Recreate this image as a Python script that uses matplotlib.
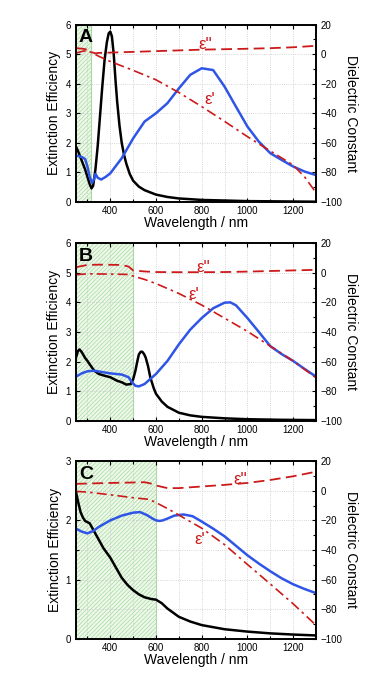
import numpy as np
import matplotlib
matplotlib.use("Agg")
import matplotlib.pyplot as plt
from matplotlib.ticker import MultipleLocator

plt.rcParams['font.family'] = ['Liberation Sans', 'DejaVu Sans']
plt.rcParams['hatch.linewidth'] = 0.5

# ---- Panel A ----
a_black_x = [250, 260, 270, 280, 290, 300, 310, 318, 325, 335, 345, 355, 365, 375, 385, 393, 400,
             407, 415, 423, 430, 440, 450, 460, 470, 485, 500, 525, 550, 600, 650, 700, 800, 900, 1000, 1150, 1300]
a_black_y = [1.87, 1.7, 1.5, 1.3, 1.1, 0.85, 0.6, 0.46, 0.55, 1.1, 1.9, 2.9, 3.9, 4.8, 5.4, 5.7, 5.76,
             5.6, 5.0, 4.1, 3.4, 2.6, 2.0, 1.6, 1.3, 0.95, 0.72, 0.52, 0.4, 0.25, 0.17, 0.12, 0.07, 0.05, 0.03, 0.02, 0.01]
a_blue_x = [250, 265, 280, 290, 300, 310, 320, 328, 335, 345, 360, 380, 400, 450, 500, 550, 600, 650,
            700, 750, 800, 850, 900, 950, 1000, 1050, 1100, 1150, 1200, 1250, 1300]
a_blue_y = [1.56, 1.55, 1.5, 1.45, 1.2, 0.85, 0.65, 0.75, 0.95, 0.82, 0.76, 0.85, 0.97, 1.48, 2.15, 2.72, 3.0, 3.34,
            3.84, 4.3, 4.52, 4.46, 3.9, 3.22, 2.55, 2.04, 1.65, 1.42, 1.2, 1.03, 0.91]
a_eps2_x = [250, 280, 300, 320, 335, 350, 400, 500, 600, 700, 800, 900, 1000, 1100, 1200, 1300]
a_eps2_y = [4.0, 3.6, 3.0, 1.2, 0.5, 0.8, 1.0, 1.5, 2.0, 2.5, 3.0, 3.3, 3.6, 4.0, 4.6, 5.6]
a_eps1_x = [250, 275, 300, 350, 400, 500, 600, 700, 800, 900, 1000, 1100, 1200, 1250, 1300]
a_eps1_y = [0.6, 1.8, 2.4, -1.5, -5.0, -11.0, -17.4, -26.0, -35.5, -45.5, -55.8, -65.5, -75.0, -83.0, -93.7]

# ---- Panel B ----
b_black_x = [250, 258, 265, 275, 290, 300, 315, 330, 350, 375, 400, 430, 450, 470, 490, 500, 510, 518, 525,
             533, 540, 548, 555, 565, 575, 590, 600, 625, 650, 700, 750, 800, 900, 1000, 1150, 1300]
b_black_y = [2.13, 2.35, 2.41, 2.32, 2.12, 2.02, 1.85, 1.69, 1.58, 1.52, 1.47, 1.35, 1.3, 1.22, 1.24, 1.4, 1.69, 2.0, 2.24,
             2.33, 2.33, 2.25, 2.13, 1.85, 1.47, 1.1, 0.91, 0.65, 0.47, 0.27, 0.18, 0.13, 0.08, 0.05, 0.03, 0.02]
b_blue_x = [250, 275, 300, 330, 360, 400, 450, 480, 495, 510, 525, 550, 600, 650, 700, 750, 800, 850, 900,
            925, 950, 1000, 1050, 1100, 1150, 1200, 1250, 1300]
b_blue_y = [1.49, 1.6, 1.67, 1.69, 1.65, 1.6, 1.56, 1.47, 1.3, 1.18, 1.16, 1.24, 1.58, 2.02, 2.58, 3.08, 3.47, 3.8, 3.99,
            4.0, 3.9, 3.47, 3.0, 2.52, 2.25, 2.02, 1.75, 1.49]
b_eps2_x = [250, 300, 350, 400, 450, 480, 500, 550, 600, 700, 800, 900, 1000, 1100, 1200, 1300]
b_eps2_y = [3.8, 5.3, 5.5, 5.4, 5.3, 4.2, 1.6, 0.9, 0.5, 0.4, 0.4, 0.5, 0.8, 1.2, 1.6, 2.0]
b_eps1_x = [250, 300, 400, 470, 500, 550, 600, 700, 800, 900, 1000, 1100, 1200, 1300]
b_eps1_y = [-1.3, -0.7, -0.9, -1.1, -2.2, -4.5, -7.3, -14.0, -21.8, -30.7, -39.6, -49.6, -59.6, -71.0]

# ---- Panel C ----
c_black_x = [250, 260, 270, 280, 290, 300, 310, 320, 330, 350, 370, 400, 425, 450, 475, 500, 525, 550, 580,
             600, 625, 650, 700, 750, 800, 900, 1000, 1100, 1200, 1300]
c_black_y = [2.48, 2.3, 2.14, 2.05, 1.99, 1.97, 1.95, 1.88, 1.81, 1.67, 1.53, 1.37, 1.2, 1.03, 0.91, 0.82, 0.75, 0.7, 0.67,
             0.66, 0.6, 0.51, 0.37, 0.29, 0.23, 0.16, 0.12, 0.09, 0.07, 0.055]
c_blue_x = [250, 275, 300, 325, 350, 400, 450, 500, 530, 560, 585, 600, 615, 630, 650, 680, 720, 760,
            800, 850, 900, 950, 1000, 1050, 1100, 1150, 1200, 1250, 1300]
c_blue_y = [1.86, 1.81, 1.78, 1.82, 1.89, 2.0, 2.08, 2.13, 2.14, 2.09, 2.03, 2.0, 1.99, 2.0, 2.03, 2.08, 2.1, 2.07,
            1.98, 1.86, 1.73, 1.57, 1.41, 1.27, 1.14, 1.02, 0.92, 0.84, 0.77]
c_eps2_x = [250, 300, 400, 500, 550, 575, 600, 650, 700, 800, 900, 1000, 1100, 1200, 1300]
c_eps2_y = [4.7, 4.9, 5.3, 5.6, 5.8, 5.0, 3.6, 1.8, 1.8, 2.9, 4.0, 5.3, 7.3, 9.8, 12.9]
c_eps1_x = [250, 300, 400, 500, 570, 600, 650, 700, 800, 900, 1000, 1100, 1200, 1300]
c_eps1_y = [-0.4, -0.9, -2.7, -4.7, -5.8, -8.0, -12.0, -16.4, -25.3, -36.4, -49.8, -63.0, -76.4, -90.9]

panels = [
    dict(letter='A', span=315, ymax=6, black=(a_black_x, a_black_y), blue=(a_blue_x, a_blue_y),
         eps2=(a_eps2_x, a_eps2_y), eps1=(a_eps1_x, a_eps1_y), lab2=(814, 6.5), lab1=(836, -31)),
    dict(letter='B', span=500, ymax=6, black=(b_black_x, b_black_y), blue=(b_blue_x, b_blue_y),
         eps2=(b_eps2_x, b_eps2_y), eps1=(b_eps1_x, b_eps1_y), lab2=(807, 3.5), lab1=(763, -15)),
    dict(letter='C', span=600, ymax=3, black=(c_black_x, c_black_y), blue=(c_blue_x, c_blue_y),
         eps2=(c_eps2_x, c_eps2_y), eps1=(c_eps1_x, c_eps1_y), lab2=(967, 7.5), lab1=(792, -33)),
]

W, H = 370, 673
fig = plt.figure(figsize=(W / 100, H / 100), dpi=100)
bottoms_px = [202, 420.7, 638.7]
left_px, width_px, height_px = 76, 240, 177.5

red = '#cc1a1a'
blue = '#2f55e6'

for p, bpx in zip(panels, bottoms_px):
    ax = fig.add_axes([left_px / W, 1 - bpx / H, width_px / W, height_px / H])
    ax.set_xlim(250, 1300)
    ax.set_ylim(0, p['ymax'])

    # zona sombreada verde
    ax.axvspan(250, p['span'], facecolor='#eef8ea', edgecolor='#a6dba0', hatch='////////', lw=0, zorder=0)
    ax.axvline(p['span'], color='#a6dba0', lw=0.8, zorder=0)

    ax.plot(*p['black'], color='black', lw=1.8, zorder=3)
    ax.plot(*p['blue'], color=blue, lw=1.8, zorder=3)

    ax.xaxis.set_major_locator(MultipleLocator(200))
    ax.xaxis.set_minor_locator(MultipleLocator(100))
    ax.yaxis.set_major_locator(MultipleLocator(1))
    if p['ymax'] == 3:
        ax.yaxis.set_minor_locator(MultipleLocator(0.5))
        ax.tick_params(axis='y', which='minor', length=0)
    ax.grid(True, which='both', color='#c8c8c8', ls=':', lw=0.6, zorder=1)
    ax.set_axisbelow(True)
    ax.tick_params(direction='in', which='both', top=True, labelsize=7, width=0.8)
    ax.tick_params(which='major', length=3)
    ax.tick_params(which='minor', length=2)
    ax.tick_params(axis='x', which='major', pad=3)
    ax.set_xlabel('Wavelength / nm', fontsize=10, labelpad=0)
    ax.set_ylabel('Extinction Efficiency', fontsize=10, labelpad=3)
    ax.text(0.012, 0.975, p['letter'], transform=ax.transAxes, ha='left', va='top',
            fontsize=14, fontweight='bold', zorder=5)

    ax2 = ax.twinx()
    ax2.set_ylim(-100, 20)
    ax2.yaxis.set_major_locator(MultipleLocator(20))
    ax2.yaxis.set_minor_locator(MultipleLocator(10))
    ax2.tick_params(direction='in', which='both', labelsize=7, width=0.8)
    ax2.tick_params(which='major', length=3)
    ax2.tick_params(which='minor', length=2)
    ax2.plot(*p['eps2'], color=red, lw=1.3, ls=(0, (6, 3)))
    ax2.plot(*p['eps1'], color=red, lw=1.2, ls=(0, (6, 2.5, 1.5, 2.5)))
    ax2.text(*p['lab2'], "ε''", color=red, fontsize=12, ha='center', va='center')
    ax2.text(*p['lab1'], "ε'", color=red, fontsize=12, ha='center', va='center')
    ax2.set_ylabel('Dielectric Constant', fontsize=10, rotation=270, labelpad=11)

    for a in (ax, ax2):
        for s in a.spines.values():
            s.set_linewidth(1.2)

fig.savefig('out.png', dpi=100)
